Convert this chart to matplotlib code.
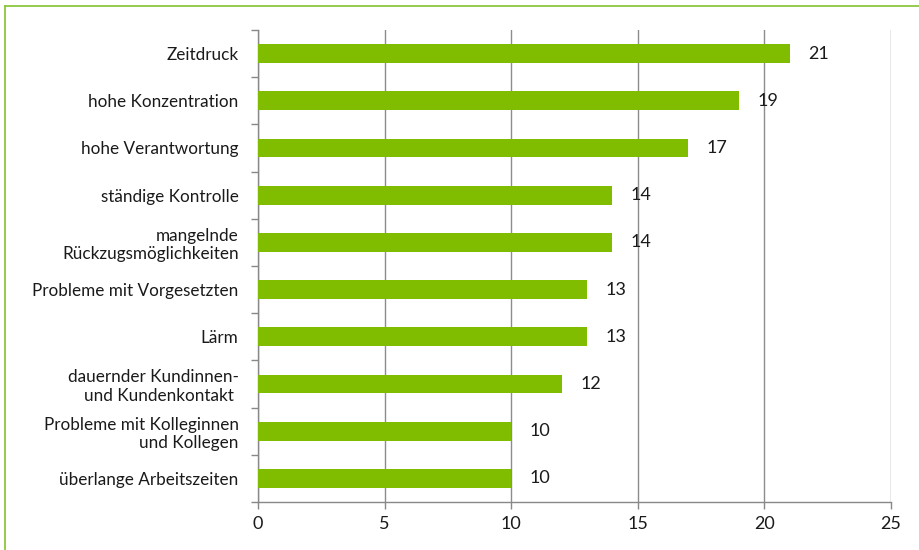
import matplotlib.pyplot as plt
from matplotlib.lines import Line2D
import numpy as np

categories = [
    "Zeitdruck",
    "hohe Konzentration",
    "hohe Verantwortung",
    "ständige Kontrolle",
    "mangelnde\nRückzugsmöglichkeiten",
    "Probleme mit Vorgesetzten",
    "Lärm",
    "dauernder Kundinnen-\nund Kundenkontakt ",
    "Probleme mit Kolleginnen\nund Kollegen",
    "überlange Arbeitszeiten",
]
values = [21, 19, 17, 14, 14, 13, 13, 12, 10, 10]
xticks = [0, 5, 10, 15, 20, 25]

plt.rcParams['font.family'] = ['Lato', 'DejaVu Sans']

fig = plt.figure(figsize=(9.19, 5.5), dpi=100)
# frame only on top and left, the rest is cut off
fig.lines.append(Line2D([0.0055, 1.0], [0.989, 0.989], transform=fig.transFigure,
                        color='#8cc63f', linewidth=1.3))
fig.lines.append(Line2D([0.0055, 0.0055], [0.0, 0.989], transform=fig.transFigure,
                        color='#8cc63f', linewidth=1.3))
ax = fig.add_axes([0.2807, 0.0873, 0.6888, 0.8582])

y = np.arange(len(categories))
ax.barh(y, values, height=0.4, color='#80bc00', zorder=3)
for yi, v in zip(y, values):
    ax.text(v + 0.72, yi, str(v), va='center', ha='left', fontsize=13, color='#1a1a1a', zorder=4)

ax.set_xlim(0, 25)
ax.set_ylim(len(categories) - 0.5, -0.5)
ax.set_xticks(xticks)
ax.set_yticks(y)
ax.set_yticklabels(categories, fontsize=12.3, color='#1a1a1a', linespacing=1.2)
ax.set_yticks(np.arange(len(categories) + 1) - 0.5, minor=True)
ax.tick_params(axis='y', which='major', length=0, pad=14)
ax.tick_params(axis='y', which='minor', length=5, color='#888888', width=1)
ax.tick_params(axis='x', length=5, color='#888888', width=1, labelsize=13, labelcolor='#1a1a1a', pad=5)

ax.grid(axis='x', color='#8c8c8c', linewidth=1, zorder=0)
for s in ['top', 'right']:
    ax.spines[s].set_visible(False)
for s in ['left', 'bottom']:
    ax.spines[s].set_color('#888888')
    ax.spines[s].set_linewidth(1)

plt.savefig('out.png', dpi=100)
